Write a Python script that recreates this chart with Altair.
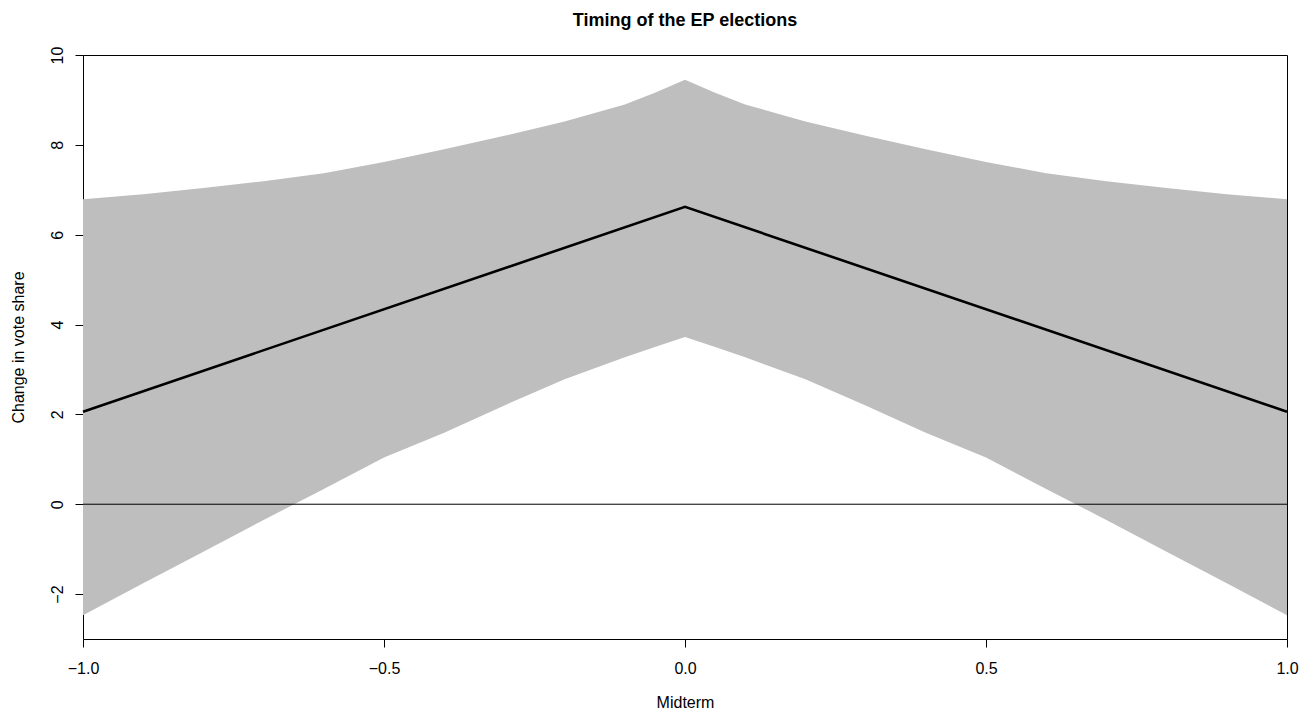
import altair as alt
import pandas as pd

# Confidence band
band_x = [-1.0, -0.9, -0.8, -0.7, -0.6, -0.5, -0.4, -0.3, -0.2, -0.1, -0.05, 0.0,
          0.05, 0.1, 0.2, 0.3, 0.4, 0.5, 0.6, 0.7, 0.8, 0.9, 1.0]
band_upper = [6.79, 6.90, 7.04, 7.19, 7.37, 7.62, 7.90, 8.20, 8.52, 8.90, 9.16, 9.45,
              9.16, 8.90, 8.52, 8.20, 7.90, 7.62, 7.37, 7.19, 7.04, 6.90, 6.79]
band_lower = [-2.47, -1.76, -1.06, -0.35, 0.34, 1.04, 1.59, 2.20, 2.78, 3.27, 3.50, 3.72,
              3.50, 3.27, 2.78, 2.20, 1.59, 1.04, 0.34, -0.35, -1.06, -1.76, -2.47]

# Point estimate line
line_x = [-1.0, 0.0, 1.0]
line_y = [2.06, 6.62, 2.06]

x_ticks = [-1.0, -0.5, 0.0, 0.5, 1.0]
y_ticks = [-2, 0, 2, 4, 6, 8, 10]

band_df = pd.DataFrame({"x": band_x, "lo": band_lower, "hi": band_upper})
line_df = pd.DataFrame({"x": line_x, "y": line_y})
zero_df = pd.DataFrame({"y": [0]})

FONT = "Liberation Sans"
W, H = 1204, 584
FS = 16

xscale = alt.Scale(domain=[-1, 1], nice=False, zero=False)
yscale = alt.Scale(domain=[-3, 10], nice=False, zero=False)

xaxis = alt.Axis(values=x_ticks, format=".1f", title="Midterm", grid=False,
                 domain=False, tickSize=8, tickColor="black", labelColor="black",
                 labelFont=FONT, labelFontSize=FS, labelPadding=13,
                 labelBaseline="top", labelFlush=False,
                 titleFont=FONT, titleFontSize=FS, titleFontWeight="normal",
                 titleColor="black", titleBaseline="alphabetic", titleY=68,
                 titleX=W / 2, titleAlign="center")
yaxis = alt.Axis(values=y_ticks, format="d", title="Change in vote share",
                 grid=False, domain=False, tickSize=8, tickColor="black",
                 labelColor="black", labelFont=FONT, labelFontSize=FS,
                 labelAngle=270, labelAlign="center", labelBaseline="alphabetic",
                 labelPadding=13, labelFlush=False,
                 titleFont=FONT, titleFontSize=FS, titleFontWeight="normal",
                 titleColor="black", titleAngle=270, titleAlign="center",
                 titleBaseline="alphabetic", titleX=-60, titleY=H / 2)

band = alt.Chart(band_df).mark_area(color="#BEBEBE", opacity=1).encode(
    x=alt.X("x:Q", scale=xscale, axis=xaxis),
    y=alt.Y("lo:Q", scale=yscale, axis=yaxis),
    y2="hi:Q",
)

zero = alt.Chart(zero_df).mark_rule(color="black", strokeWidth=1).encode(
    y=alt.Y("y:Q", scale=yscale),
)

line = alt.Chart(line_df).mark_line(color="black", strokeWidth=2.6).encode(
    x=alt.X("x:Q", scale=xscale),
    y=alt.Y("y:Q", scale=yscale),
)

chart = alt.layer(band, zero, line).properties(
    width=W,
    height=H,
    title=alt.TitleParams("Timing of the EP elections", font=FONT, fontSize=18,
                          fontWeight="bold", color="black", anchor="middle",
                          frame="group", offset=16),
    autosize=alt.AutoSizeParams(type="none"),
    padding={"left": 75, "top": 47, "right": 12, "bottom": 73},
    background="white",
).configure_view(stroke="black", strokeWidth=1)

chart.save("out.html", embed_options={"renderer": "svg", "actions": False})
